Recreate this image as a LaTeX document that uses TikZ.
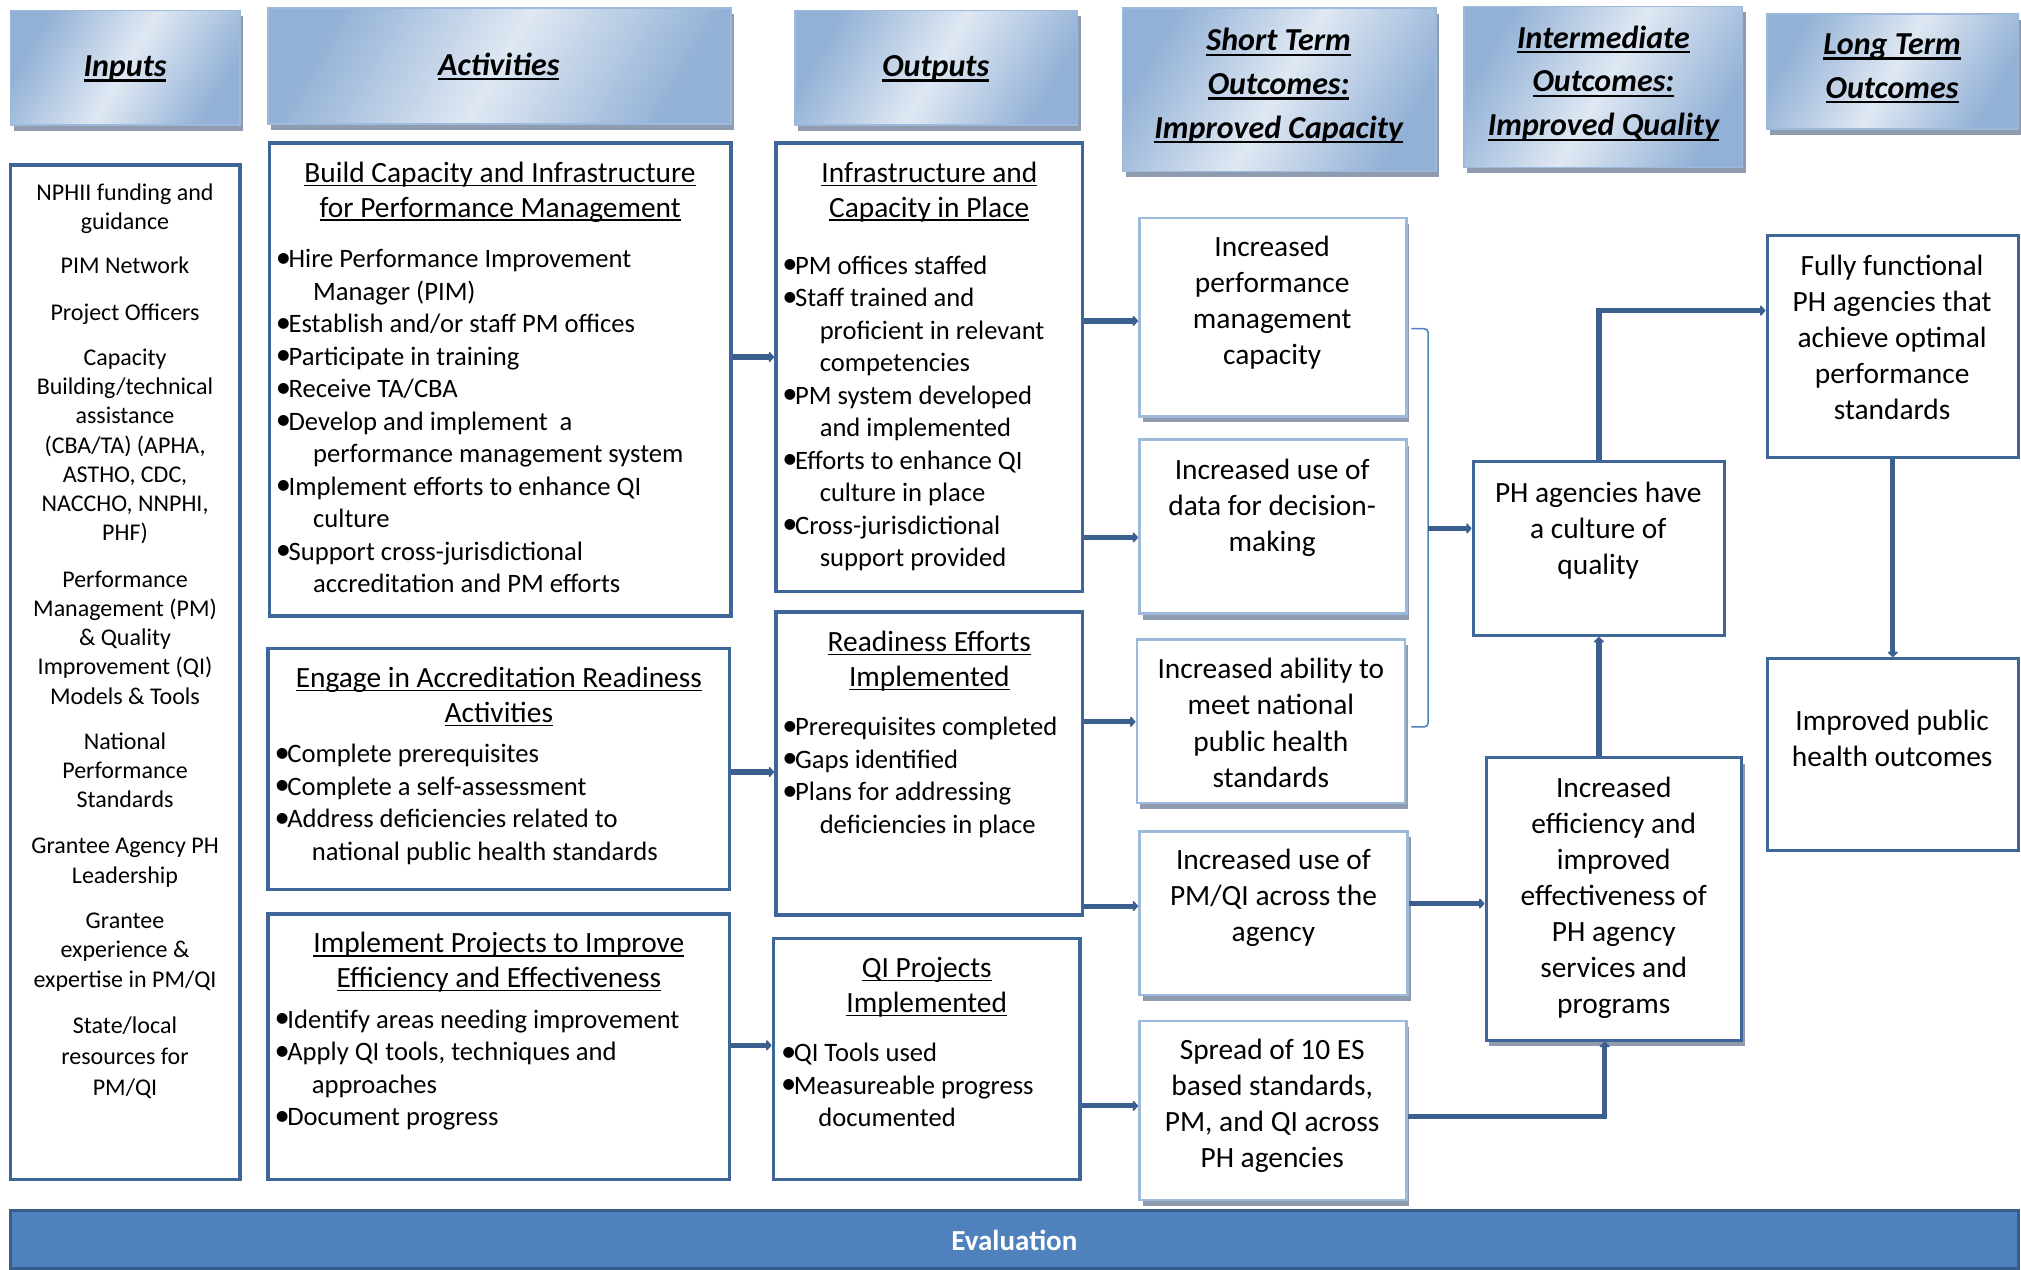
\documentclass[tikz,border=0pt]{standalone}
\usepackage{fontspec}
\setmainfont{Carlito}
\usetikzlibrary{arrows.meta,fit,shadows,calc}

\definecolor{conncol}{HTML}{3B5F8F}
\definecolor{bordcol}{HTML}{3F6699}
\definecolor{stbcol}{HTML}{9DB9DC}
\definecolor{shdcol}{HTML}{8F9CAF}
\definecolor{hdark}{HTML}{93B1D6}
\definecolor{hlight}{HTML}{DFE8F3}
\definecolor{evfill}{HTML}{4F81BD}
\definecolor{evbord}{HTML}{385D8A}
\definecolor{brkcol}{HTML}{4F81BD}

\newcommand\uln[1]{\leavevmode\setbox0\hbox{#1}\rlap{\rule[-1.8pt]{\wd0}{0.6pt}}\box0}
\newcommand\ulb[1]{\leavevmode\setbox0\hbox{#1}\rlap{\rule[-2.6pt]{\wd0}{1.1pt}}\box0}
\newcommand\cbox[2]{\parbox[t]{#1}{\centering #2}}
\newcommand\lbox[1]{\parbox[t]{330pt}{\raggedright #1}}
\newcommand\bu{\leavevmode\makebox[6.4pt][l]{\raisebox{0.2pt}{\scalebox{1.15}{•}}}}
\newcommand\ii{\leavevmode\hspace*{18.7pt}}
\newcommand\fIn{\fontsize{12}{14.63}\selectfont}
\newcommand\fBody{\fontsize{13.3}{16.24}\selectfont}
\newcommand\fTitle{\fontsize{14.7}{17.4}\selectfont}
\newcommand\fOut{\fontsize{14.7}{18.05}\selectfont}
\newcommand\fHdr{\fontsize{16}{21.9}\selectfont\bfseries\itshape}

\tikzset{
  hdr/.style={draw=stbcol, line width=0.8pt, inner sep=0pt,
    left color=hdark, right color=hdark, middle color=hlight, shading angle=60,
    general shadow={fill=shdcol, shadow xshift=1.6pt, shadow yshift=-2.9pt}},
  actbox/.style={draw=bordcol, line width=1.8pt, fill=white, inner sep=0pt},
  stbox/.style={draw=stbcol, line width=1.3pt, fill=white, inner sep=0pt,
    general shadow={fill=shdcol, shadow xshift=1.6pt, shadow yshift=-3pt}},
  dkbox/.style={draw=bordcol, line width=1.6pt, fill=white, inner sep=0pt},
  evbox/.style={draw=evbord, line width=1.6pt, fill=evfill, inner sep=0pt},
  tx/.style={anchor=base, inner sep=0pt, outer sep=0pt, yshift=-1.2pt},
  lx/.style={anchor=base west, inner sep=0pt, outer sep=0pt, font=\fBody, yshift=-1.2pt},
  conn/.style={draw=conncol, line width=2.6pt, -{Triangle[length=2.8pt,width=6pt,round]}},
  brk/.style={draw=brkcol, line width=0.8pt, rounded corners=2pt}
}

\begin{document}
\begin{tikzpicture}[x=0.6445pt, y=-0.6445pt]
\useasboundingbox (0,0) rectangle (1568,985);

% ---------- headers ----------
\node[hdr, fit={(8,8)(186,97)}] (hIn) {};
\node[hdr, fit={(208,6)(567,96)}] (hAct) {};
\node[hdr, fit={(617,8)(836,97)}] (hOut) {};
\node[hdr, fit={(871,6)(1114,133)}] (hST) {};
\node[hdr, fit={(1136,5)(1352,130)}] (hIM) {};
\node[hdr, fit={(1371,11)(1566,100)}] (hLT) {};

\node[tx, font=\fHdr] (hInt) at (97,57.4) {\cbox{150pt}{\ulb{Inputs}}};
\node[tx, font=\fHdr] (hActt) at (387,56.4) {\cbox{200pt}{\ulb{Activities}}};
\node[tx, font=\fHdr] (hOutt) at (726,57.4) {\cbox{150pt}{\ulb{Outputs}}};
\node[tx, font=\fHdr] (hSTt) at (992,37.4) {\cbox{160pt}{\ulb{Short Term}\\\ulb{Outcomes:}\\\ulb{Improved Capacity}}};
\node[tx, font=\fHdr] (hIMt) at (1244,35.4) {\cbox{160pt}{\ulb{Intermediate}\\\ulb{Outcomes:}\\\ulb{Improved Quality}}};
\node[tx, font=\fHdr] (hLTt) at (1468,40.4) {\cbox{160pt}{\ulb{Long Term}\\\ulb{Outcomes}}};

% ---------- inputs ----------
\node[actbox, fit={(8,128)(186,915)}] (inp) {};
\node[tx, font=\fIn] (in1) at (97,153.6) {\cbox{140pt}{NPHII funding and\\guidance}};
\node[tx, font=\fIn] (in2) at (97,210.6) {\cbox{140pt}{PIM Network}};
\node[tx, font=\fIn] (in3) at (97,246.6) {\cbox{140pt}{Project Officers}};
\node[tx, font=\fIn] (in4) at (97,281.6) {\cbox{140pt}{Capacity\\Building/technical\\assistance\\(CBA/TA) (APHA,\\ASTHO, CDC,\\NACCHO, NNPHI,\\PHF)}};
\node[tx, font=\fIn] (in5) at (97,453.6) {\cbox{140pt}{Performance\\Management (PM)\\\& Quality\\Improvement (QI)\\Models \& Tools}};
\node[tx, font=\fIn] (in6) at (97,579.6) {\cbox{140pt}{National\\Performance\\Standards}};
\node[tx, font=\fIn] (in7) at (97,660.6) {\cbox{140pt}{Grantee Agency PH\\Leadership}};
\node[tx, font=\fIn] (in8) at (97,718.6) {\cbox{140pt}{Grantee\\experience \&\\expertise in PM/QI}};
\node[tx, font=\fontsize{12}{15.6}\selectfont] (in9) at (97,799.6) {\cbox{140pt}{State/local\\resources for\\PM/QI}};

% ---------- activities ----------
\node[actbox, fit={(209,111)(567,478)}] (a1) {};
\node[actbox, fit={(208,503)(566,690)}] (a2) {};
\node[actbox, fit={(208,709)(566,915)}] (a3) {};

\node[tx, font=\fTitle] (a1t) at (388,139.5) {\cbox{300pt}{\uln{Build Capacity and Infrastructure}\\\uln{for Performance Management}}};
\node[lx] (a1b) at (214,206) {\lbox{\bu Hire Performance Improvement\\
\ii Manager (PIM)\\
\bu Establish and/or staff PM offices\\
\bu Participate in training\\
\bu Receive TA/CBA\\
\bu Develop and implement\ \ a\\
\ii performance management system\\
\bu Implement efforts to enhance QI\\
\ii culture\\
\bu Support cross-jurisdictional\\
\ii accreditation and PM efforts}};

\node[tx, font=\fTitle] (a2t) at (387,531.5) {\cbox{300pt}{\uln{Engage in Accreditation Readiness}\\\uln{Activities}}};
\node[lx] (a2b) at (213,590) {\lbox{\bu Complete prerequisites\\
\bu Complete a self-assessment\\
\bu Address deficiencies related to\\
\ii national public health standards}};

\node[tx, font=\fTitle] (a3t) at (387,737.5) {\cbox{300pt}{\uln{Implement Projects to Improve}\\\uln{Efficiency and Effectiveness}}};
\node[lx] (a3b) at (213,796) {\lbox{\bu Identify areas needing improvement\\
\bu Apply QI tools, techniques and\\
\ii approaches\\
\bu Document progress}};

% ---------- outputs ----------
\node[actbox, fit={(602,111)(840,459)}] (o1) {};
\node[actbox, fit={(602,475)(840,710)}] (o2) {};
\node[actbox, fit={(600,728)(838,915)}] (o3) {};

\node[tx, font=\fTitle] (o1t) at (721,139.5) {\cbox{200pt}{\uln{Infrastructure and}\\\uln{Capacity in Place}}};
\node[lx] (o1b) at (607,211) {\lbox{\bu PM offices staffed\\
\bu Staff trained and\\
\ii proficient in relevant\\
\ii competencies\\
\bu PM system developed\\
\ii and implemented\\
\bu Efforts to enhance QI\\
\ii culture in place\\
\bu Cross-jurisdictional\\
\ii support provided}};

\node[tx, font=\fTitle] (o2t) at (721,503.5) {\cbox{200pt}{\uln{Readiness Efforts}\\\uln{Implemented}}};
\node[lx] (o2b) at (607,569) {\lbox{\bu Prerequisites completed\\
\bu Gaps identified\\
\bu Plans for addressing\\
\ii deficiencies in place}};

\node[tx, font=\fTitle] (o3t) at (719,756.5) {\cbox{200pt}{\uln{QI Projects}\\\uln{Implemented}}};
\node[lx] (o3b) at (606,822) {\lbox{\bu QI Tools used\\
\bu Measureable progress\\
\ii documented}};

% ---------- short term ----------
\node[stbox, fit={(884,169)(1091,323)}] (s1) {};
\node[stbox, fit={(884,341)(1091,476)}] (s2) {};
\node[stbox, fit={(882,496)(1090,623)}] (s3) {};
\node[stbox, fit={(884,645)(1092,772)}] (s4) {};
\node[stbox, fit={(884,792)(1091,931)}] (s5) {};

\node[tx, font=\fOut] (s1t) at (987,196.8) {\cbox{140pt}{Increased\\performance\\management\\capacity}};
\node[tx, font=\fOut] (s2t) at (987,369.8) {\cbox{140pt}{Increased use of\\data for decision-\\making}};
\node[tx, font=\fOut] (s3t) at (986,524.8) {\cbox{140pt}{Increased ability to\\meet national\\public health\\standards}};
\node[tx, font=\fOut] (s4t) at (988,672.8) {\cbox{140pt}{Increased use of\\PM/QI across the\\agency}};
\node[tx, font=\fOut] (s5t) at (987,819.8) {\cbox{140pt}{Spread of 10 ES\\based standards,\\PM, and QI across\\PH agencies}};

% ---------- intermediate ----------
\node[dkbox, fit={(1143,358)(1338,493)}] (m1) {};
\node[dkbox, general shadow={fill=shdcol, shadow xshift=1.6pt, shadow yshift=-3pt}, fit={(1153,588)(1351,807)}] (m2) {};
\node[tx, font=\fOut] (m1t) at (1240,387.8) {\cbox{140pt}{PH agencies have\\a culture of\\quality}};
\node[tx, font=\fOut] (m2t) at (1252,616.8) {\cbox{140pt}{Increased\\efficiency and\\improved\\effectiveness of\\PH agency\\services and\\programs}};

% ---------- long term ----------
\node[dkbox, fit={(1371,183)(1566,355)}] (l1) {};
\node[dkbox, fit={(1371,511)(1566,660)}] (l2) {};
\node[tx, font=\fOut] (l1t) at (1468,211.8) {\cbox{140pt}{Fully functional\\PH agencies that\\achieve optimal\\performance\\standards}};
\node[tx, font=\fOut] (l2t) at (1468,564.8) {\cbox{140pt}{Improved public\\health outcomes}};

% ---------- evaluation ----------
\node[evbox, fit={(8,939)(1566,984)}] (ev) {};
\node[tx, font=\fontsize{14.5}{17}\selectfont\bfseries, text=white] (evt) at (787,968) {Evaluation};

% ---------- connectors ----------
\draw[conn] (a1.east |- 0,277) -- (o1.west |- 0,277);
\draw[conn] (a2.east |- 0,599) -- (o2.west |- 0,599);
\draw[conn] (a3.east |- 0,811) -- (o3.west |- 0,811);
\draw[conn] (o1.east |- 0,249) -- (s1.west |- 0,249);
\draw[conn] (o1.east |- 0,417) -- (s2.west |- 0,417);
\draw[conn] (o2.east |- 0,560) -- (s3.west |- 0,560);
\draw[conn] (o2.east |- 0,703) -- (s4.west |- 0,703);
\draw[conn] (o3.east |- 0,858) -- (s5.west |- 0,858);

\coordinate (bt) at (1095,255);
\coordinate (bb) at (1095,564);
\coordinate (bm) at (1108,410);
\draw[brk] (bt) -- (1108,255) -- (1108,564) -- (bb);
\draw[conn] (bm) -- (m1.west |- bm);

\draw[conn] (s4.east |- 0,701) -- (m2.west |- 0,701);
\draw[conn] (s5.east |- 0,866) -| (m2.south -| 1245,0);
\draw[conn] (m1.south |- m2.north) -- (m1.south);
\draw[conn] (m1.north) |- (l1.west |- 0,241);
\draw[conn] (l1.south) -- (l2.north);
\end{tikzpicture}
\end{document}
